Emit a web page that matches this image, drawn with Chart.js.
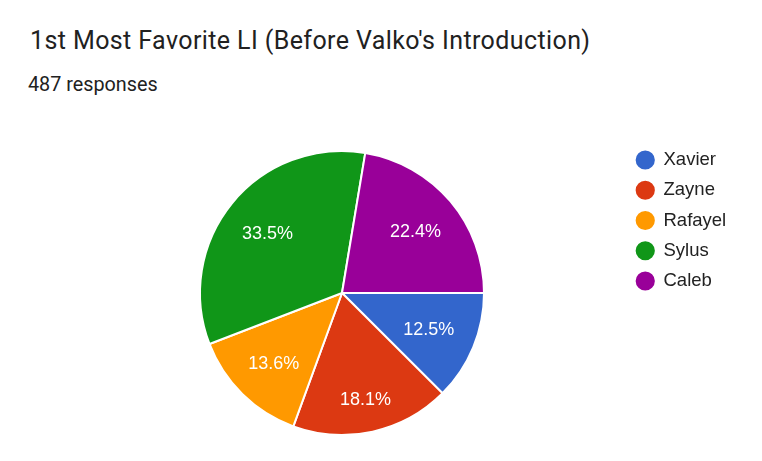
<!DOCTYPE html>
<html>
<head>
<meta charset="utf-8">
<script src="https://cdn.jsdelivr.net/npm/chart.js@4.4.0/dist/chart.umd.min.js"></script>
<style>
  html, body { margin: 0; padding: 0; background: #fff; }
  #wrap { position: relative; width: 762px; height: 461px; overflow: hidden; }
  #title { position: absolute; left: 30px; top: 28px; font-family: Roboto, sans-serif; font-size: 25px; line-height: 25px; letter-spacing: 0.4px; color: #212121; white-space: nowrap; }
  #sub { position: absolute; left: 28px; top: 75px; font-family: Roboto, sans-serif; font-size: 19.8px; line-height: 19.8px; color: #212121; white-space: nowrap; }
  canvas { position: absolute; left: 0; top: 0; }
</style>
</head>
<body>
<div id="wrap">
  <div id="title"></div>
  <div id="sub"></div>
  <canvas id="pieChart" width="762" height="461"></canvas>
</div>
<script>
var titleText = "1st Most Favorite LI (Before Valko's Introduction)";
var responses = 487;
var names = ['Xavier', 'Zayne', 'Rafayel', 'Sylus', 'Caleb'];
var shares = [12.5, 18.1, 13.6, 33.5, 22.4];
var colors = ['#3366cc', '#dc3912', '#ff9900', '#109618', '#990099'];

document.getElementById('title').textContent = titleText;
document.getElementById('sub').textContent = responses + ' responses';

// percentage text inside each slice, pushed out so its far edge sits near the rim
var sliceLabels = {
  id: 'sliceLabels',
  afterDatasetsDraw: function(chart) {
    var ctx = chart.ctx;
    var meta = chart.getDatasetMeta(0);
    ctx.save();
    ctx.font = '18px "Liberation Sans", Arial, sans-serif';
    ctx.fillStyle = '#ffffff';
    ctx.textAlign = 'center';
    ctx.textBaseline = 'alphabetic';
    meta.data.forEach(function(arc, i) {
      var p = arc.getProps(['x', 'y', 'startAngle', 'endAngle', 'outerRadius']);
      var txt = shares[i].toFixed(1) + '%';
      var hw = ctx.measureText(txt).width / 2, hh = 6.5;
      var mid = (p.startAngle + p.endAngle) / 2;
      var c = Math.cos(mid), s = Math.sin(mid);
      var r = p.outerRadius * 0.845 - (hw * Math.abs(c) + hh * Math.abs(s));
      ctx.fillText(txt, p.x + c * r, p.y + s * r + hh);
    });
    ctx.restore();
  }
};

// move the legend to the right of the pie
var legendPlacer = {
  id: 'legendPlacer',
  afterLayout: function(chart) {
    var lg = chart.legend;
    lg.left = 624.5;
    lg.right = 762;
    lg.width = lg.right - lg.left;
    lg.top = 139;
    lg.bottom = 461;
    lg.height = lg.bottom - lg.top;
  }
};

var ctx = document.getElementById('pieChart').getContext('2d');
var pieChart = new Chart(ctx, {
  type: 'pie',
  data: {
    labels: names,
    datasets: [{
      data: shares,
      backgroundColor: colors,
      borderColor: '#ffffff',
      borderWidth: 2
    }]
  },
  options: {
    responsive: false,
    animation: false,
    events: [],
    rotation: 90,
    layout: { padding: { top: 150, bottom: 25, left: 199, right: 277 } },
    plugins: {
      tooltip: { enabled: false },
      legend: {
        position: 'chartArea',
        align: 'start',
        labels: {
          usePointStyle: true,
          pointStyle: 'circle',
          boxWidth: 18,
          boxHeight: 15,
          padding: 11.75,
          color: '#222222',
          font: { family: '"Liberation Sans", Arial, sans-serif', size: 18.5 }
        }
      }
    }
  },
  plugins: [sliceLabels, legendPlacer]
});
</script>
</body>
</html>
